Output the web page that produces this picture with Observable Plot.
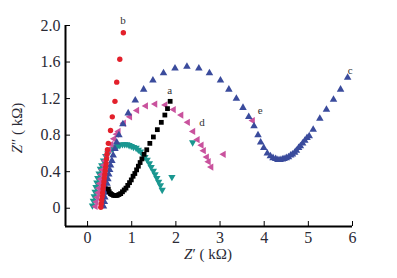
<!DOCTYPE html>
<html><head><meta charset="utf-8">
<script src="https://cdn.jsdelivr.net/npm/d3@7"></script>
<script src="https://cdn.jsdelivr.net/npm/@observablehq/plot@0.6"></script>
<style>
body{margin:0;background:#fff}
</style>
</head><body><div id="chart"></div>
<script>
// Series a (black squares)
const aX = [0.47,0.49,0.52,0.55,0.59,0.63,0.67,0.71,0.75,0.79,0.83,0.87,0.91,0.95,0.99,1.03,1.07,1.11,1.15,1.19,1.23,1.28,1.34,1.41,1.49,1.58,1.67,1.75,1.81,1.87];
const aY = [0.21,0.18,0.16,0.15,0.14,0.14,0.14,0.15,0.16,0.18,0.20,0.22,0.25,0.28,0.31,0.35,0.38,0.42,0.46,0.50,0.54,0.59,0.64,0.71,0.78,0.86,0.94,1.02,1.09,1.17];
// Series b (red circles)
const bX = [0.30,0.31,0.32,0.33,0.34,0.35,0.36,0.37,0.38,0.39,0.40,0.41,0.42,0.43,0.44,0.45,0.47,0.52,0.56,0.62,0.66,0.73,0.81];
const bY = [0.01,0.05,0.09,0.13,0.17,0.21,0.25,0.29,0.33,0.37,0.41,0.45,0.49,0.54,0.59,0.64,0.71,0.85,1.00,1.17,1.38,1.63,1.92];
// Series c (blue up triangles)
const cX = [0.36,0.38,0.39,0.41,0.42,0.44,0.46,0.48,0.50,0.52,0.55,0.58,0.62,0.66,0.71,0.80,0.92,1.08,1.27,1.48,1.72,1.98,2.25,2.52,2.76,3.01,3.20,3.37,3.52,3.65,3.77,3.86,3.92,3.99,4.07,4.14,4.20,4.26,4.31,4.36,4.41,4.45,4.50,4.55,4.60,4.64,4.69,4.73,4.78,4.82,4.87,4.92,4.97,5.02,5.11,5.26,5.41,5.57,5.73,5.89];
const cY = [0.02,0.07,0.12,0.17,0.22,0.27,0.32,0.37,0.42,0.47,0.52,0.58,0.65,0.72,0.80,0.92,1.04,1.18,1.30,1.40,1.48,1.53,1.55,1.53,1.48,1.40,1.30,1.20,1.10,1.00,0.90,0.80,0.72,0.66,0.60,0.57,0.55,0.54,0.53,0.53,0.535,0.54,0.55,0.56,0.58,0.59,0.61,0.63,0.66,0.68,0.71,0.74,0.77,0.79,0.86,0.98,1.08,1.19,1.30,1.43];
// Series d (magenta left triangles)
const dX = [0.18,0.20,0.22,0.24,0.26,0.28,0.30,0.32,0.34,0.37,0.40,0.44,0.49,0.54,0.60,0.66,0.70,0.82,0.96,1.12,1.32,1.53,1.76,1.95,2.12,2.27,2.39,2.49,2.58,2.63,2.70,2.74,2.80,3.08,3.74];
const dY = [0.02,0.07,0.12,0.17,0.22,0.27,0.32,0.37,0.42,0.47,0.52,0.58,0.64,0.70,0.76,0.81,0.84,0.93,1.00,1.07,1.12,1.14,1.13,1.08,1.02,0.94,0.84,0.75,0.69,0.63,0.56,0.51,0.45,0.59,0.96];
// Series e (teal down triangles)
const eX = [0.11,0.13,0.15,0.17,0.19,0.21,0.23,0.26,0.29,0.32,0.36,0.41,0.46,0.51,0.57,0.62,0.68,0.73,0.79,0.84,0.89,0.94,0.99,1.04,1.10,1.15,1.20,1.25,1.30,1.35,1.40,1.44,1.49,1.53,1.57,1.61,1.65,1.69,1.91,2.38];
const eY = [0.03,0.08,0.13,0.18,0.23,0.28,0.33,0.38,0.43,0.47,0.52,0.57,0.60,0.63,0.65,0.67,0.68,0.69,0.70,0.70,0.70,0.69,0.68,0.67,0.66,0.64,0.62,0.59,0.56,0.53,0.49,0.45,0.41,0.37,0.33,0.29,0.25,0.20,0.34,0.72];

const curveLabels = ["a","b","c","d","e"];
const curveLabelX = [1.86,0.80,5.95,2.59,3.91];
const curveLabelY = [1.29,2.05,1.51,0.94,1.07];

const xTicks = [0,1,2,3,4,5,6];
const yTicks = [0,0.4,0.8,1.2,1.6,2.0];

const zip = (xs, ys) => xs.map((x, i) => ({x, y: ys[i]}));
const labels = curveLabels.map((t, i) => ({t, x: curveLabelX[i], y: curveLabelY[i]}));

function side(size){ return Math.sqrt(4*size/Math.sqrt(3)); }
const triDown = {draw(ctx, size){ const s = side(size), h = Math.sqrt(3)/2*s;
  ctx.moveTo(0, 2*h/3); ctx.lineTo(-s/2, -h/3); ctx.lineTo(s/2, -h/3); ctx.closePath(); }};
const triLeft = {draw(ctx, size){ const s = side(size), h = Math.sqrt(3)/2*s;
  ctx.moveTo(-2*h/3, 0); ctx.lineTo(h/3, -s/2); ctx.lineTo(h/3, s/2); ctx.closePath(); }};

const FONT = "'Liberation Serif', 'DejaVu Serif', serif";

const chart = Plot.plot({
  width: 397, height: 278,
  marginLeft: 65, marginRight: 45, marginTop: 25, marginBottom: 52,
  x: {domain: [-0.5, 6]},
  y: {domain: [-0.2, 2.0]},
  marks: [
    // tick labels only
    Plot.axisX({ticks: xTicks, tickSize: 0, tickPadding: 5, tickFormat: d => String(d), label: null, fill: "#2a2a35"}),
    Plot.axisY({ticks: yTicks, tickSize: 0, tickPadding: 5, tickFormat: d => d === 0 ? "0" : d.toFixed(1), label: null, fill: "#2a2a35"}),
    // inward tick marks
    Plot.axisX({ticks: xTicks, tickSize: 5, text: null, dy: -5, label: null, stroke: "#000"}),
    Plot.axisY({ticks: yTicks, tickSize: 5, text: null, dx: 5, label: null, stroke: "#000"}),
    Plot.dot(zip(eX, eY), {x: "x", y: "y", symbol: triDown, r: 2.7, fill: "#1a9790", stroke: "none"}),
    Plot.dot(zip(dX, dY), {x: "x", y: "y", symbol: triLeft, r: 2.7, fill: "#c9529d", stroke: "none"}),
    Plot.dot(zip(cX, cY), {x: "x", y: "y", symbol: "triangle", r: 2.8, fill: "#3a4b9c", stroke: "none"}),
    Plot.dot(zip(bX, bY), {x: "x", y: "y", symbol: "circle", r: 2.7, fill: "#e3202b", stroke: "none"}),
    Plot.dot(zip(aX, aY), {x: "x", y: "y", symbol: "square", r: 2.7, fill: "#000", stroke: "none"}),
    Plot.text(labels, {x: "x", y: "y", text: "t", fill: "#333", className: "curvelab"}),
    Plot.ruleY([-0.2], {stroke: "#000", strokeWidth: 2}),
    Plot.ruleX([-0.5], {stroke: "#000", strokeWidth: 2})
  ]
});

const svg = d3.select(chart);
svg.selectAll("text").each(function() {
  const isLab = this.closest(".curvelab") != null;
  this.style.fontFamily = FONT;
  this.style.fontSize = isLab ? "11px" : "16px";
});

const yt = svg.append("text").attr("transform", "translate(22,128) rotate(-90)")
  .attr("text-anchor", "middle").attr("fill", "#2a2a35")
  .style("font-family", FONT).style("font-size", "15px");
yt.append("tspan").attr("font-style", "italic").text("Z");
yt.append("tspan").text("″ ( kΩ)");
const xt = svg.append("text").attr("x", 208).attr("y", 259)
  .attr("text-anchor", "middle").attr("fill", "#2a2a35")
  .style("font-family", FONT).style("font-size", "15px");
xt.append("tspan").attr("font-style", "italic").text("Z");
xt.append("tspan").text("′ ( kΩ)");

document.getElementById("chart").append(chart);
</script>
</body></html>
